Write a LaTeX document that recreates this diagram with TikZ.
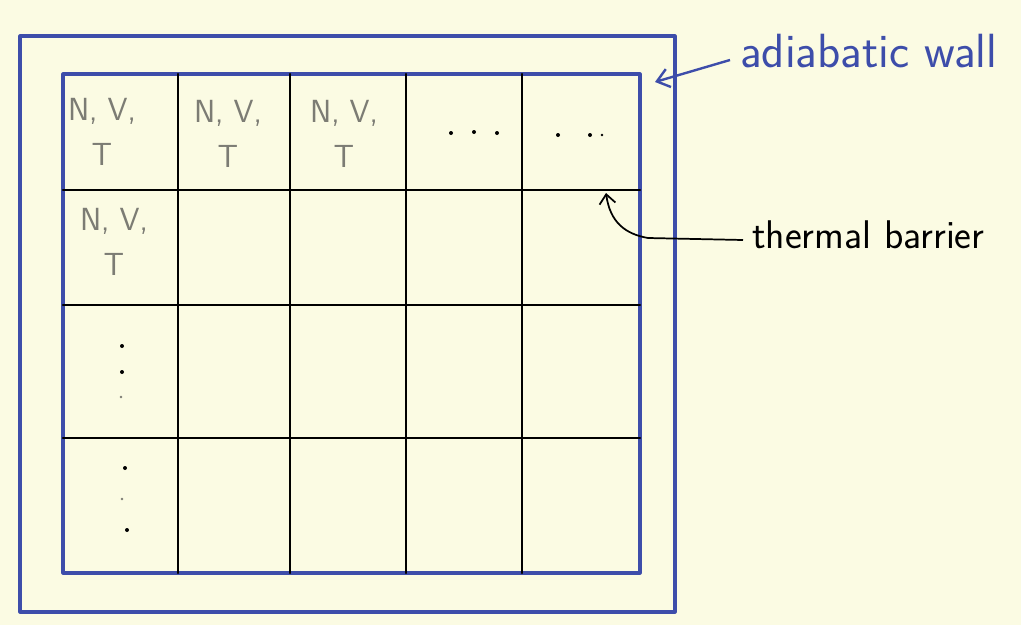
\documentclass[tikz,border=0pt]{standalone}
\usetikzlibrary{arrows.meta}
\definecolor{paper}{HTML}{FBFBE3}
\definecolor{ink}{HTML}{3D4DAA}
\definecolor{pencil}{HTML}{7C7C74}
\begin{document}
\begin{tikzpicture}[x=0.75pt,y=-0.75pt,
  wall/.style={draw=ink,line width=2.3pt,line join=round},
  gridline/.style={draw=black,line width=1.7pt,line cap=round},
  cell/.style={text=pencil,font=\sffamily\fontsize{24}{34}\selectfont,inner sep=0pt,align=center},
  dotmark/.style={fill=black,circle,inner sep=0pt,minimum size=3pt},
  bluelabel/.style={text=ink,font=\sffamily\fontsize{36}{40}\selectfont,inner sep=0pt,anchor=base west},
  blacklabel/.style={text=black,font=\sffamily\fontsize{30}{34}\selectfont,inner sep=0pt,anchor=base west},
  bluearrow/.style={draw=ink,line width=1.8pt,-{Straight Barb[length=9pt,width=14pt,line width=1.8pt]}},
  blackarrow/.style={draw=black,line width=1.3pt,-{Straight Barb[length=7pt,width=12pt,line width=1.3pt]}}]
\fill[paper] (0,0) rectangle (1021,625);
\useasboundingbox (0,0) rectangle (1021,625);
% walls
\draw[wall] (20,36) rectangle (675,612);
\draw[wall] (63,74) rectangle (640,573);
% grid
\foreach \x in {178,290,406,522}{\draw[gridline] (\x,74) -- (\x,573);}
\foreach \y in {190,305,438}{\draw[gridline] (63,\y) -- (640,\y);}
% cell texts
\node[cell] (c11) at (102,132) {N, V,\\T};
\node[cell] (c12) at (228,134) {N, V,\\T};
\node[cell] (c13) at (344,134) {N, V,\\T};
\node[cell] (c21) at (114,242) {N, V,\\T};
% dots
\node[dotmark] (d1) at (451,133) {};
\node[dotmark] (d2) at (474,132) {};
\node[dotmark] (d3) at (497,133) {};
\node[dotmark] (d4) at (558,135) {};
\node[dotmark] (d5) at (590,135) {};
\node[dotmark,minimum size=2pt] (d6) at (602,135) {};
\node[dotmark] (d7) at (122,346) {};
\node[dotmark] (d8) at (122,372) {};
\node[dotmark,minimum size=2pt,fill=pencil] (d9) at (121,397) {};
\node[dotmark] (d10) at (125,468) {};
\node[dotmark,minimum size=2pt,fill=pencil] (d11) at (122,499) {};
\node[dotmark] (d12) at (127,530) {};
% labels
\node[bluelabel] (aw) at (740,67) {adiabatic wall};
\coordinate (awstart) at (730,60);
\coordinate (awtip) at (655,82);
\draw[bluearrow] (awstart) -- (awtip);
\node[blacklabel] (tb) at (752,248) {thermal barrier};
\coordinate (tbstart) at (743,240);
\coordinate (tbtip) at (606,193);
\draw[blackarrow] (tbstart) -- (648,238) .. controls (625,234) and (610,222) .. (tbtip);
\end{tikzpicture}
\end{document}
